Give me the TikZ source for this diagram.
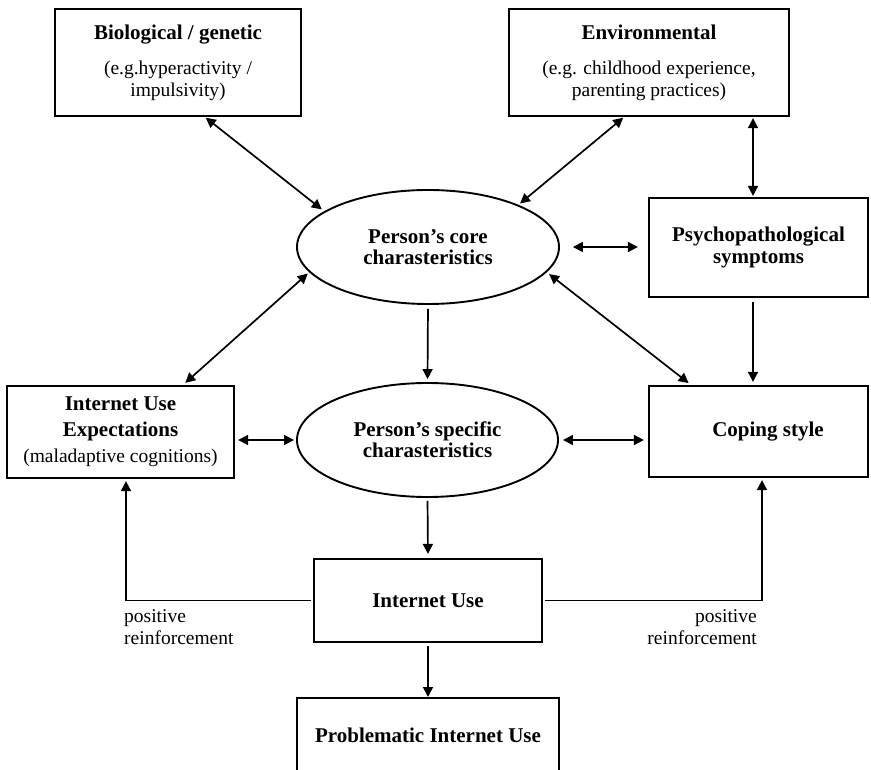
\documentclass[tikz,border=0pt]{standalone}
\usepackage{fontspec}
\setmainfont{Liberation Serif}
\usetikzlibrary{arrows.meta,shapes.geometric,calc}
\tikzset{
  box/.style={draw, rectangle, line width=2.2pt, inner sep=0pt, align=center,
    font=\fontsize{19.5}{22}\selectfont},
  ell/.style={draw, ellipse, line width=1.9pt, inner sep=0pt, align=center,
    font=\fontsize{21}{21}\selectfont\bfseries},
  ttl/.style={font=\fontsize{21}{22}\selectfont\bfseries},
  lbl/.style={inner sep=0pt, font=\fontsize{19.5}{22}\selectfont},
  arr/.style={line width=1.7pt, -{Triangle[length=10pt,width=10pt]}},
  darr/.style={line width=1.7pt, {Triangle[length=10pt,width=10pt]}-{Triangle[length=10pt,width=10pt]}},
}
\begin{document}
\begin{tikzpicture}[x=1pt,y=-1pt]
\useasboundingbox (0,0) rectangle (871,770);

% boxes
\node[box, minimum width=246, minimum height=107] (bio) at (178,62.5)
  {{\fontsize{21}{22}\selectfont\bfseries Biological / genetic}\\[13pt]
   (e.g.hyperactivity /\\ impulsivity)};
\node[box, minimum width=280, minimum height=107] (env) at (649,62.5)
  {{\fontsize{21}{22}\selectfont\bfseries Environmental}\\[13pt]
   (e.g. childhood experience,\\ parenting practices)};
\node[box, ttl, minimum width=219, minimum height=99] (psych) at (758.5,247.5)
  {Psychopathological\\ symptoms};
\node[ell, minimum width=262, minimum height=114] (core) at (428,247)
  {Person’s core\\ charasteristics};
\node[box, minimum width=227, minimum height=92, font=\fontsize{19.5}{26}\selectfont] (iue) at (120.5,432)
  {{\fontsize{21}{26}\selectfont\bfseries Internet Use}\\
   {\fontsize{21}{26}\selectfont\bfseries Expectations}\\
   (maladaptive cognitions)};
\node[ell, minimum width=261, minimum height=114] (spec) at (427.5,440)
  {Person’s specific\\ charasteristics};
\node[box, ttl, minimum width=219, minimum height=91] (coping) at (758.5,431.5)
  {\hspace*{19pt}Coping style};
\node[box, ttl, minimum width=228, minimum height=83] (iu) at (428,600.5)
  {Internet Use};
\node[box, minimum width=262, minimum height=90, anchor=north] (piu) at (428,697) {};
\node[ttl, inner sep=0pt] (piutext) at (428,735) {Problematic Internet Use};

% labels
\node[lbl, anchor=north west, align=left] (posl) at (124,609.7) {positive\\ reinforcement};
\node[lbl, anchor=north east, align=right] (posr) at (757,609.7) {positive\\ reinforcement};

% connectors
\draw[darr, shorten <=1pt, shorten >=3pt] ([xshift=27]bio.south) -- (core.161);
\draw[darr, shorten <=1pt, shorten >=2pt] ([xshift=-25]env.south) -- (core.25);
\draw[darr, shorten <=1pt, shorten >=1pt] ([xshift=104]env.south) -- ([xshift=104]env.south |- psych.north);
\draw[darr, shorten <=13pt, shorten >=10pt] (core.east) -- (core.east -| psych.west);
\draw[darr, shorten <=2pt, shorten >=3pt] (core.192) -- ([xshift=62.5]iue.north);
\draw[darr, shorten <=3pt, shorten >=3pt] (core.348) -- ([xshift=-67.5]coping.north);
\draw[arr, shorten <=4pt, shorten >=3pt] ([xshift=-5.5]psych.south) -- ([xshift=-5.5]psych.south |- coping.north);
\draw[arr, shorten <=4pt, shorten >=3pt] (core.south) -- (spec.north);
\draw[darr, shorten <=3pt, shorten >=2pt] (spec.west -| iue.east) -- (spec.west);
\draw[darr, shorten <=4pt, shorten >=4pt] (spec.east) -- (spec.east -| coping.west);
\draw[arr, shorten <=3pt, shorten >=4pt] (spec.south) -- (iu.north);
\draw[arr, shorten <=2pt, shorten >=2pt] (iu.west) -| ([xshift=5.5]iue.south);
\draw[arr, shorten <=2pt, shorten >=2pt] (iu.east) -| ([xshift=3.5]coping.south);
\draw[arr, shorten <=3pt] (iu.south) -- (piu.north);
\end{tikzpicture}
\end{document}
